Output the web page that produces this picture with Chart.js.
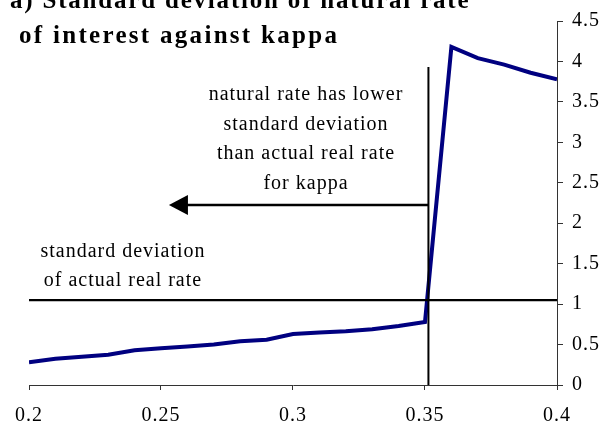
<!DOCTYPE html>
<html lang="en">
<head>
    <meta charset="UTF-8">
    <title>Standard deviation of natural rate of interest against kappa</title>
    <style>
        html, body {
            margin: 0;
            padding: 0;
            background: #fff;
        }

        #wrap {
            width: 602px;
            height: 432px;
            position: relative;
        }
    </style>
</head>
<body>
    <div id="wrap"><canvas id="myChart"></canvas></div>

    <script src="https://cdn.jsdelivr.net/npm/chart.js"></script>
    <script>
        // data
        var kappa = [0.20, 0.21, 0.22, 0.23, 0.24, 0.25, 0.26, 0.27, 0.28, 0.29, 0.30,
                     0.31, 0.32, 0.33, 0.34, 0.35, 0.36, 0.37, 0.38, 0.39, 0.40];
        var sdNatural = [0.28, 0.325, 0.35, 0.375, 0.43, 0.455, 0.475, 0.50, 0.54, 0.56, 0.63,
                         0.65, 0.665, 0.69, 0.73, 0.78, 4.18, 4.04, 3.96, 3.86, 3.78];
        var sdActual = 1.05;          // horizontal reference line
        var kappaCut = 0.3513;        // vertical line
        var kappaCutTop = 3.93;
        var arrowLevel = 2.226;       // arrow height
        var arrowTip = 0.253;         // arrow points to here
        var xTicks = [0.2, 0.25, 0.3, 0.35, 0.4];
        var yTicks = [0, 0.5, 1, 1.5, 2, 2.5, 3, 3.5, 4, 4.5];

        var titleLines = ['a) Standard deviation of natural rate', 'of interest against kappa'];
        var noteRight = ['natural rate has lower', 'standard deviation', 'than actual real rate', 'for kappa'];
        var noteLeft = ['standard deviation', 'of actual real rate'];

        var serif = '"Liberation Serif", "Times New Roman", serif';

        function pts(xs, ys) {
            return xs.map(function (x, i) { return { x: x, y: ys[i] }; });
        }

        var textPlugin = {
            id: 'texts',
            beforeDraw: function (chart) {
                chart.ctx.letterSpacing = '1px';
            },
            afterDraw: function (chart) {
                var ctx = chart.ctx;
                var xs = chart.scales.x, ys = chart.scales.y;
                ctx.save();
                ctx.fillStyle = '#000';

                // arrow head
                var tx = xs.getPixelForValue(arrowTip);
                var ty = ys.getPixelForValue(arrowLevel);
                ctx.beginPath();
                ctx.moveTo(tx, ty);
                ctx.lineTo(tx + 19, ty - 10);
                ctx.lineTo(tx + 19, ty + 10);
                ctx.closePath();
                ctx.fill();

                // title
                ctx.font = 'bold 25px ' + serif;
                ctx.textAlign = 'left';
                ctx.textBaseline = 'alphabetic';
                ctx.letterSpacing = '1.8px';
                ctx.fillText(titleLines[0], 10, 8);
                ctx.letterSpacing = '2.3px';
                ctx.fillText(titleLines[1], 19, 43);

                // notes
                ctx.font = '20px ' + serif;
                ctx.letterSpacing = '1px';
                ctx.textAlign = 'center';
                noteRight.forEach(function (t, i) {
                    ctx.fillText(t, 306, 100 + i * 29.5);
                });
                noteLeft.forEach(function (t, i) {
                    ctx.fillText(t, 123, 256.5 + i * 29.5);
                });
                ctx.restore();
            }
        };

        var ctx = document.getElementById('myChart').getContext('2d');
        var myChart = new Chart(ctx, {
            type: 'line',
            data: {
                datasets: [{
                    data: pts(kappa, sdNatural),
                    borderColor: '#000080',
                    borderWidth: 4,
                    pointRadius: 0,
                    tension: 0,
                    order: 2
                }, {
                    data: [{ x: 0.2, y: sdActual }, { x: 0.4, y: sdActual }],
                    borderColor: '#000',
                    borderWidth: 2.3,
                    pointRadius: 0,
                    order: 1
                }, {
                    data: [{ x: kappaCut, y: 0 }, { x: kappaCut, y: kappaCutTop }],
                    borderColor: '#000',
                    borderWidth: 2,
                    pointRadius: 0,
                    order: 1
                }, {
                    data: [{ x: kappaCut, y: arrowLevel }, { x: arrowTip + 0.002, y: arrowLevel }],
                    borderColor: '#000',
                    borderWidth: 2.5,
                    pointRadius: 0,
                    order: 1
                }]
            },
            options: {
                responsive: true,
                maintainAspectRatio: false,
                animation: false,
                layout: {
                    padding: { left: 29, top: 16, right: 0, bottom: 0 }
                },
                plugins: {
                    legend: { display: false },
                    tooltip: { enabled: false }
                },
                scales: {
                    x: {
                        type: 'linear',
                        position: 'bottom',
                        min: 0.2,
                        max: 0.4,
                        afterBuildTicks: function (axis) {
                            axis.ticks = xTicks.map(function (v) { return { value: v }; });
                        },
                        afterFit: function (axis) { axis.height = 47; },
                        grid: {
                            drawOnChartArea: false,
                            color: '#333',
                            tickLength: 5
                        },
                        border: { color: '#333', width: 1 },
                        ticks: {
                            autoSkip: false,
                            maxRotation: 0,
                            padding: 14,
                            color: '#000',
                            font: { family: serif, size: 20 },
                            callback: function (v) { return String(v); }
                        }
                    },
                    y: {
                        position: 'right',
                        min: 0,
                        max: 4.5,
                        afterBuildTicks: function (axis) {
                            axis.ticks = yTicks.map(function (v) { return { value: v }; });
                        },
                        afterFit: function (axis) { axis.width = 45; },
                        grid: {
                            drawOnChartArea: false,
                            color: '#333',
                            tickLength: 6
                        },
                        border: { color: '#333', width: 1 },
                        ticks: {
                            padding: 9,
                            color: '#000',
                            font: { family: serif, size: 20 },
                            callback: function (v) { return String(v); }
                        }
                    }
                }
            },
            plugins: [textPlugin]
        });
    </script>
</body>
</html>
